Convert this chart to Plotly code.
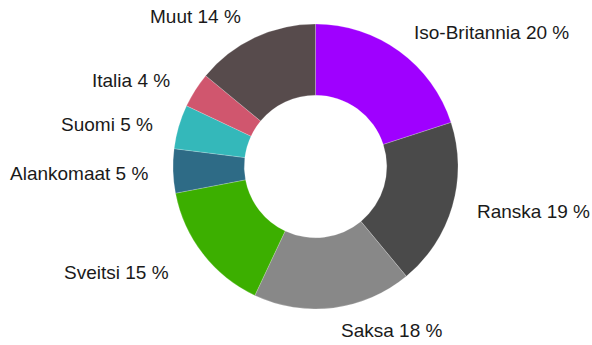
import plotly.graph_objects as go

# Share of total by country, clockwise from 12 o'clock
countries = ["Iso-Britannia", "Ranska", "Saksa", "Sveitsi", "Alankomaat", "Suomi", "Italia", "Muut"]
shares = [20, 19, 18, 15, 5, 5, 4, 14]
colors = ["#9F00FF", "#4A4A4A", "#888888", "#3CAF00", "#2E6B86", "#34B8BA", "#D0566E", "#574B4C"]

# Label anchor positions in pixels (centre of text), in the same order
label_px = [(492, 32), (533, 211), (391, 330), (116, 272), (79, 173), (107, 124), (131, 81), (195, 17)]

W, H = 592, 345
cx, cy, r = 315.5, 166.5, 142.5

fig = go.Figure(go.Pie(
    labels=countries,
    values=shares,
    sort=False,
    direction="clockwise",
    rotation=0,
    hole=0.5,
    marker=dict(colors=colors, line=dict(color="rgba(255,255,255,0.4)", width=0.5)),
    textinfo="none",
    hoverinfo="label+percent",
    domain=dict(x=[(cx - r) / W, (cx + r) / W], y=[(H - cy - r) / H, (H - cy + r) / H]),
))

for name, val, (px, py) in zip(countries, shares, label_px):
    fig.add_annotation(
        x=px / W, y=1 - py / H, xref="paper", yref="paper",
        text=f"{name} {val} %", showarrow=False,
        xanchor="center", yanchor="middle",
        font=dict(family="Liberation Sans Narrow, Liberation Sans, Arial", size=19, color="#1a1a1a"),
    )

fig.update_layout(
    width=W, height=H,
    margin=dict(l=0, r=0, t=0, b=0),
    showlegend=False,
    paper_bgcolor="white",
    plot_bgcolor="white",
)

fig.write_html("out.html")
